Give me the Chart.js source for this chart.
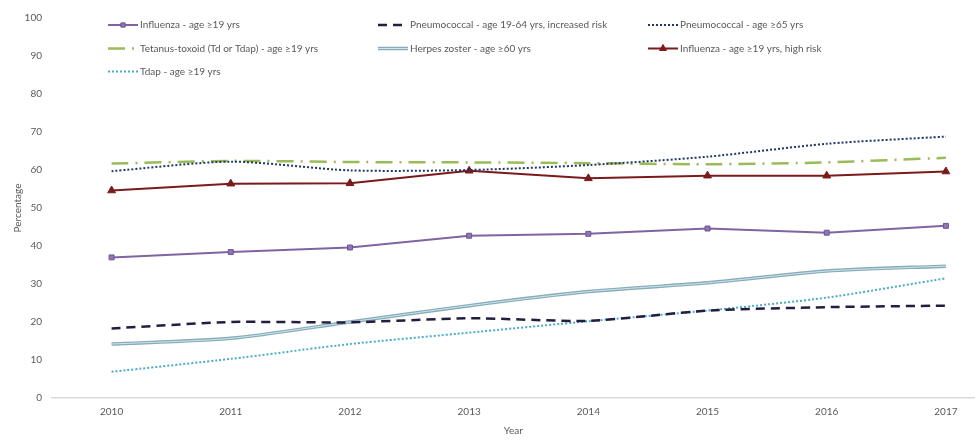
<!DOCTYPE html>
<html>
<head>
<meta charset="utf-8">
<script src="https://cdn.jsdelivr.net/npm/chart.js@4.4.1/dist/chart.umd.min.js"></script>
<style>
  html, body { margin: 0; padding: 0; background: #fff; }
  #wrap { width: 980px; height: 441px; }
</style>
</head>
<body>
<div id="wrap"><canvas id="chart"></canvas></div>
<script>
// Data
const years = [2010, 2011, 2012, 2013, 2014, 2015, 2016, 2017];
const yTicks = [0, 10, 20, 30, 40, 50, 60, 70, 80, 90, 100];

const fluAll      = [37.0, 38.4, 39.6, 42.7, 43.2, 44.6, 43.5, 45.3];
const pneumoRisk  = [18.3, 20.0, 19.9, 21.0, 20.3, 23.0, 23.9, 24.3];
const pneumo65    = [59.7, 62.2, 59.9, 60.0, 61.3, 63.5, 66.9, 68.8];
const tetanus     = [61.7, 62.4, 62.1, 62.0, 61.8, 61.5, 62.0, 63.2];
const zoster      = [14.2, 15.7, 20.0, 24.3, 28.0, 30.3, 33.4, 34.7];
const fluRisk     = [54.6, 56.4, 56.5, 59.8, 57.8, 58.5, 58.5, 59.6];
const tdap        = [6.9, 10.3, 14.2, 17.2, 20.2, 23.0, 26.4, 31.5];

const seriesNames = [
    'Influenza - age \u226519 yrs',
    'Pneumococcal - age 19-64 yrs, increased risk',
    'Pneumococcal - age \u226565 yrs',
    'Tetanus-toxoid (Td or Tdap) - age \u226519 yrs',
    'Herpes zoster - age \u226560 yrs',
    'Influenza - age \u226519 yrs, high risk',
    'Tdap - age \u226519 yrs'
];

const textColor = '#595959';
const fontFamily = "Lato, 'Open Sans', sans-serif";

const toPoints = arr => arr.map((v, i) => ({ x: years[i], y: v }));

// Legend drawn in a 3-column grid inside the plot, like the original
const gridLegend = {
    id: 'gridLegend',
    afterDraw(chart) {
        const ctx = chart.ctx;
        const cols = [108, 378, 648];
        const rows = [25, 48.5, 71.5];
        const sample = 30;
        ctx.save();
        ctx.font = '10px ' + fontFamily;
        ctx.textBaseline = 'middle';
        chart.data.datasets.forEach((ds, i) => {
            const x = cols[i % 3];
            const y = rows[Math.floor(i / 3)];
            ctx.save();
            ctx.strokeStyle = ds.borderColor;
            ctx.lineWidth = ds.borderWidth;
            ctx.setLineDash(ds.borderDash || []);
            ctx.beginPath();
            ctx.moveTo(x, y);
            ctx.lineTo(x + sample, y);
            ctx.stroke();
            if (ds.innerColor) {
                ctx.strokeStyle = ds.innerColor;
                ctx.lineWidth = 1;
                ctx.beginPath();
                ctx.moveTo(x, y);
                ctx.lineTo(x + sample, y);
                ctx.stroke();
            }
            ctx.setLineDash([]);
            if (ds.pointRadius > 0) {
                ctx.fillStyle = ds.pointBackgroundColor;
                ctx.strokeStyle = ds.pointBorderColor;
                ctx.lineWidth = 1;
                Chart.helpers.drawPoint(ctx, {
                    pointStyle: ds.pointStyle,
                    radius: ds.pointRadius - 0.5,
                    borderWidth: 1
                }, x + sample / 2, y);
            }
            ctx.restore();
            ctx.fillStyle = textColor;
            ctx.fillText(ds.label, x + sample + 2, y);
        });
        ctx.restore();
    }
};

// Excel-style "double" line for herpes zoster: lighter stroke inside
const doubleLine = {
    id: 'doubleLine',
    afterDatasetDraw(chart, args) {
        const ds = chart.data.datasets[args.index];
        if (!ds.innerColor) return;
        const ctx = chart.ctx;
        ctx.save();
        ctx.strokeStyle = ds.innerColor;
        ctx.lineWidth = 1;
        ctx.lineJoin = 'round';
        ctx.beginPath();
        args.meta.dataset.path(ctx);
        ctx.stroke();
        ctx.restore();
    }
};

new Chart(document.getElementById('chart'), {
    type: 'line',
    data: {
        datasets: [
            {
                label: seriesNames[0],
                data: toPoints(fluAll),
                borderColor: '#8064a2',
                borderWidth: 2,
                tension: 0,
                pointStyle: 'rect',
                pointRadius: 3.5,
                pointBackgroundColor: '#8f75b5',
                pointBorderColor: '#6e5394',
                pointBorderWidth: 1
            },
            {
                label: seriesNames[1],
                data: toPoints(pneumoRisk),
                borderColor: '#231d40',
                borderWidth: 2.5,
                borderDash: [9, 6],
                tension: 0.2,
                pointRadius: 0
            },
            {
                label: seriesNames[2],
                data: toPoints(pneumo65),
                borderColor: '#1f3864',
                borderWidth: 2,
                borderDash: [2, 2],
                tension: 0.25,
                pointRadius: 0
            },
            {
                label: seriesNames[3],
                data: toPoints(tetanus),
                borderColor: '#9bbb59',
                borderWidth: 2.5,
                borderDash: [17, 7, 2, 7],
                tension: 0.2,
                pointRadius: 0
            },
            {
                label: seriesNames[4],
                data: toPoints(zoster),
                borderColor: '#86acb9',
                innerColor: '#cfe4eb',
                borderWidth: 3.5,
                tension: 0.25,
                pointRadius: 0
            },
            {
                label: seriesNames[5],
                data: toPoints(fluRisk),
                borderColor: '#7b1a1a',
                borderWidth: 2,
                tension: 0,
                pointStyle: 'triangle',
                pointRadius: 4.5,
                pointBackgroundColor: '#7b1a1a',
                pointBorderColor: '#7b1a1a',
                pointBorderWidth: 1
            },
            {
                label: seriesNames[6],
                data: toPoints(tdap),
                borderColor: '#4bacc6',
                borderWidth: 2,
                borderDash: [2, 2],
                tension: 0.2,
                pointRadius: 0
            }
        ]
    },
    options: {
        responsive: true,
        maintainAspectRatio: false,
        animation: false,
        layout: { padding: { top: 18, right: 5, left: 0, bottom: 0 } },
        plugins: {
            legend: { display: false },
            tooltip: { enabled: false }
        },
        scales: {
            x: {
                type: 'linear',
                min: 2009.5,
                max: 2017.24,
                afterBuildTicks: s => { s.ticks = years.map(v => ({ value: v })); },
                afterFit: s => { s.height = 43; },
                grid: { display: false, drawTicks: false },
                border: { display: true, color: '#d9d9d9', width: 1.5 },
                ticks: {
                    autoSkip: false,
                    maxRotation: 0,
                    padding: 8,
                    color: textColor,
                    font: { family: fontFamily, size: 10 },
                    callback: v => String(v)
                },
                title: {
                    display: true,
                    text: 'Year',
                    color: textColor,
                    font: { family: fontFamily, size: 10 },
                    padding: { top: 0, bottom: 4 }
                }
            },
            y: {
                min: 0,
                max: 100,
                afterBuildTicks: s => { s.ticks = yTicks.map(v => ({ value: v })); },
                afterFit: s => { s.width = 52; },
                grid: { display: false, drawTicks: false },
                border: { display: false },
                ticks: {
                    padding: 10,
                    color: textColor,
                    font: { family: fontFamily, size: 10 }
                },
                title: {
                    display: true,
                    text: 'Percentage',
                    color: textColor,
                    font: { family: fontFamily, size: 10 },
                    padding: { top: 12, bottom: 0 }
                }
            }
        }
    },
    plugins: [doubleLine, gridLegend]
});
</script>
</body>
</html>
